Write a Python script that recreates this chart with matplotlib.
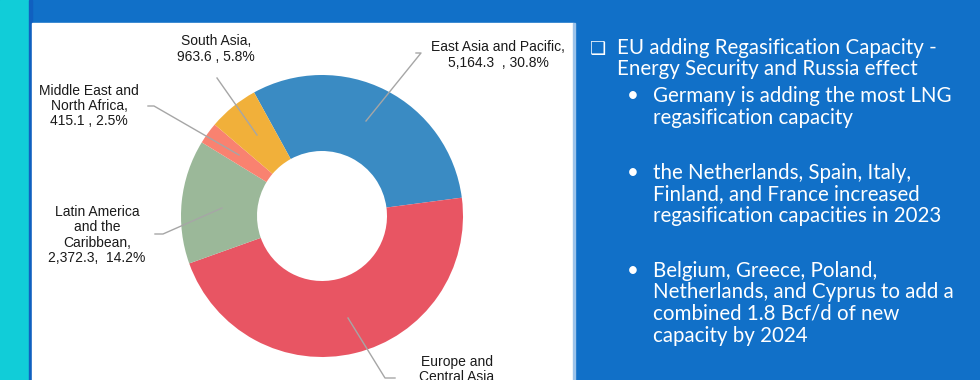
import matplotlib
matplotlib.use('Agg')
import matplotlib.pyplot as plt
from matplotlib.patches import Rectangle

# donut data (clockwise from East Asia)
regions = ['East Asia and Pacific', 'Europe and Central Asia', 'Latin America and the Caribbean',
           'Middle East and North Africa', 'South Asia']
values = [5164.3, 7784.7, 2372.3, 415.1, 963.6]
colors = ['#3a8bc3', '#e85563', '#9bb899', '#f98270', '#f1b03a']

labels = ['East Asia and Pacific,\n5,164.3  , 30.8%',
          'Europe and\nCentral Asia',
          'Latin America\nand the\nCaribbean,\n2,372.3,  14.2%',
          'Middle East and\nNorth Africa,\n415.1 , 2.5%',
          'South Asia,\n963.6 , 5.8%']

header = ['EU adding Regasification Capacity -', 'Energy Security and Russia effect']
bullets = [['Germany is adding the most LNG', 'regasification capacity'],
           ['the Netherlands, Spain, Italy,', 'Finland, and France increased',
            'regasification capacities in 2023'],
           ['Belgium, Greece, Poland,', 'Netherlands, and Cyprus to add a',
            'combined 1.8 Bcf/d of new', 'capacity by 2024']]

W, H = 980, 380
BLUE = '#1170c8'

fig = plt.figure(figsize=(9.8, 3.8), dpi=100, facecolor=BLUE)
ax = fig.add_axes([0, 0, 1, 1])
ax.set_facecolor(BLUE)


def Y(y):
    return H - y


# background panels
ax.add_patch(Rectangle((0, 0), 29, H, color='#11cdd8', zorder=0))
ax.add_patch(Rectangle((29, 0), 3, H, color='#1060c0', zorder=0))
ax.add_patch(Rectangle((32, 0), 541, Y(23), color='white', zorder=0))
ax.add_patch(Rectangle((573, 0), 2, Y(23), color='#9cc3ea', zorder=0))

# donut
cx, cy, r = 322, 216, 141
ax.pie(values, colors=colors, startangle=118.8, counterclock=False,
       center=(cx, Y(cy)), radius=r,
       wedgeprops=dict(width=76, linewidth=0))

lab_font = dict(family='Liberation Sans', fontsize=10, color='#1a1a1a',
                ha='center', linespacing=1.12)
ax.text(498, Y(55), labels[0], va='center', **lab_font)
ax.text(457, Y(355), labels[1], va='top', **lab_font)
ax.text(97, Y(235), labels[2], va='center', **lab_font)
ax.text(89, Y(106), labels[3], va='center', **lab_font)
ax.text(216, Y(49), labels[4], va='center', **lab_font)

# leader lines
leaders = [[(416, 53), (421, 53), (366, 121)],
           [(348, 318), (385, 378), (395, 378)],
           [(155, 234), (163, 234), (222, 208)],
           [(148, 106), (154, 106), (239, 155)],
           [(217, 78), (257, 135)]]
for pts in leaders:
    ax.plot([p[0] for p in pts], [Y(p[1]) for p in pts], color='#a6a6a6', lw=1, zorder=3)

# right-hand text
txt = dict(family='Lato', fontsize=14.8, color='white', va='baseline', ha='left')
ax.text(590, Y(54), '\u2751', family='DejaVu Sans', fontsize=13, color='white', va='baseline')
y = 54
for line in header:
    ax.text(617, Y(y), line, **txt)
    y += 21
starts = [102, 179, 277]
for b, y0 in zip(bullets, starts):
    ax.text(627, Y(y0), '\u2022', **txt)
    for i, line in enumerate(b):
        ax.text(653, Y(y0 + i * 21.5), line, **txt)

ax.set_xlim(0, W)
ax.set_ylim(0, H)
ax.set_aspect('auto')
ax.axis('off')

fig.savefig('out.png', dpi=100, facecolor=BLUE)
